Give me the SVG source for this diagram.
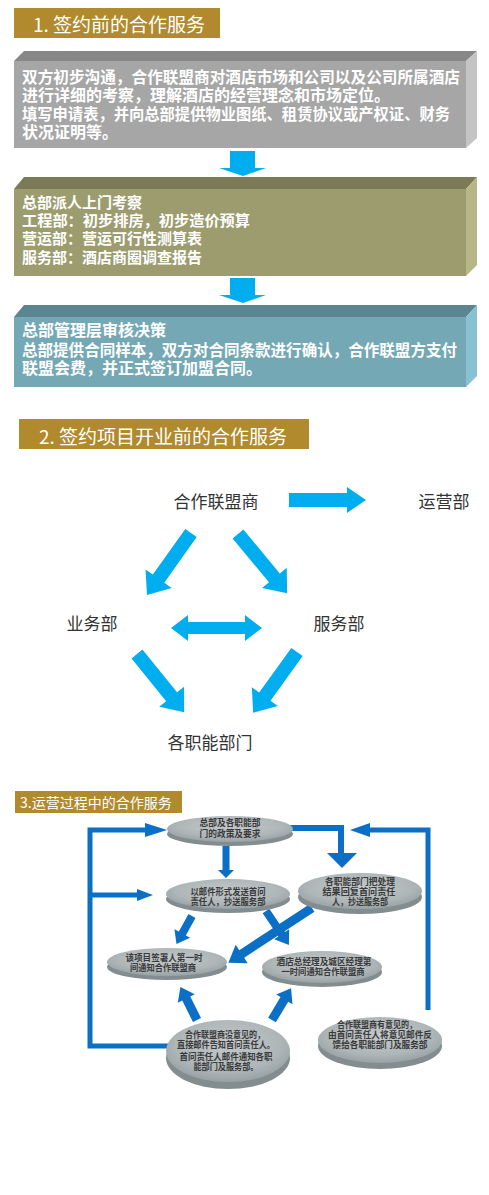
<svg xmlns="http://www.w3.org/2000/svg" width="489" height="1195" viewBox="0 0 489 1195" lang="zh-CN">
<style>
.hdr{fill:#B08A2D}
.hdrt{fill:#fff;font-family:"Noto Sans CJK SC","Liberation Sans",sans-serif}
.bt{fill:#fff;font-family:"Liberation Sans","Noto Sans CJK SC",sans-serif;font-weight:bold}
.lbl{fill:#333;font-family:"Noto Sans CJK SC",sans-serif;font-size:17px;text-anchor:middle}
.et{fill:#3a3a3a;font-family:"Liberation Sans","Noto Sans CJK SC",sans-serif;font-size:9px;text-anchor:middle;font-weight:bold}
.ba{fill:#00AEEF}
.cn{fill:none;stroke:#0B6FC6}
.ch{fill:#0B6FC6}
.rim{fill:#838D90}
.top{fill:url(#eg)}
</style>
<defs>
<radialGradient id="eg" cx="50%" cy="40%" r="60%">
<stop offset="0" stop-color="#C2C9CB"/>
<stop offset="0.7" stop-color="#AEB6B8"/>
<stop offset="1" stop-color="#98A1A4"/>
</radialGradient>
</defs>
<rect width="489" height="1195" fill="#fff"/>

<!-- Section 1 -->
<g id="header1">
<rect class="hdr" x="14" y="8" width="206" height="30"/>
<text class="hdrt" x="33" y="32" font-size="19">1. 签约前的合作服务</text>
</g>
<g id="box1">
<polygon points="14,61 24,51 477,51 466,61" fill="#878787"/>
<rect x="14" y="61" width="452" height="87" fill="#A6A6A6"/>
<polygon points="466,61 477,51 477,138 466,148" fill="#C4C4C4"/>
<text class="bt" font-size="16"><tspan x="22" y="83" textLength="438" lengthAdjust="spacingAndGlyphs">双方初步沟通，合作联盟商对酒店市场和公司以及公司所属酒店</tspan><tspan x="22" y="101">进行详细的考察，理解酒店的经营理念和市场定位。</tspan><tspan x="22" y="120" textLength="428" lengthAdjust="spacingAndGlyphs">填写申请表，并向总部提供物业图纸、租赁协议或产权证、财务</tspan><tspan x="22" y="138">状况证明等。</tspan></text>
</g>
<g id="box2">
<polygon points="14,189 24,177 477,177 466,189" fill="#7A7A55"/>
<rect x="14" y="189" width="452" height="87" fill="#9C9C6E"/>
<polygon points="466,189 477,177 477,265 466,276" fill="#B6B687"/>
<text class="bt" font-size="15"><tspan x="22" y="208">总部派人上门考察</tspan><tspan x="22" y="226" textLength="228" lengthAdjust="spacingAndGlyphs">工程部：初步排房，初步造价预算</tspan><tspan x="22" y="244">营运部：营运可行性测算表</tspan><tspan x="22" y="263">服务部：酒店商圈调查报告</tspan></text>
</g>
<g id="box3">
<polygon points="14,317 24,305 477,305 466,317" fill="#5B8591"/>
<rect x="14" y="317" width="452" height="70" fill="#74A8B5"/>
<polygon points="466,317 477,305 477,376 466,387" fill="#88C1D1"/>
<text class="bt" font-size="16"><tspan x="22" y="336">总部管理层审核决策</tspan><tspan x="22" y="356" textLength="435" lengthAdjust="spacingAndGlyphs">总部提供合同样本，双方对合同条款进行确认，合作联盟方支付</tspan><tspan x="22" y="374">联盟会费，并正式签订加盟合同。</tspan></text>
</g>

<!-- Section 2 -->
<g id="header2">
<rect class="hdr" x="19" y="419" width="290" height="30"/>
<text class="hdrt" x="39" y="444" font-size="19">2. 签约项目开业前的合作服务</text>
</g>
<g id="n-merchant"><text class="lbl" x="216" y="508">合作联盟商</text></g>
<g id="n-ops"><text class="lbl" x="444" y="508">运营部</text></g>
<g id="n-biz"><text class="lbl" x="92" y="630">业务部</text></g>
<g id="n-svc"><text class="lbl" x="339" y="630">服务部</text></g>
<g id="n-depts"><text class="lbl" x="210" y="749">各职能部门</text></g>

<!-- Section 3 -->
<g id="header3">
<rect class="hdr" x="15" y="791" width="167" height="22"/>
<text class="hdrt" x="20" y="808" font-size="14">3.运营过程中的合作服务</text>
</g>

<g id="connectors">
<!-- section 1 -->
<polygon class="ba" points="230,151 255,151 255,168 266,168 243,176 219,168 230,168"/>
<polygon class="ba" points="230,278 255,278 255,295 266,295 243,303 219,295 230,295"/>
<!-- section 2 -->
<polygon class="ba" points="289,493 347,493 347,487 366,500 347,513 347,507 289,507"/>
<polygon class="ba" transform="translate(191,533) rotate(125.4)" points="0,-7 56,-7 56,-16 76,0 56,16 56,7 0,7"/>
<polygon class="ba" transform="translate(238,534) rotate(50.3)" points="0,-7 57,-7 57,-16 77,0 57,16 57,7 0,7"/>
<polygon class="ba" points="171,628 188,615 188,622 245,622 245,615 262,628 245,641 245,634 188,634 188,641"/>
<polygon class="ba" transform="translate(137,654) rotate(51)" points="0,-7 55,-7 55,-16 75,0 55,16 55,7 0,7"/>
<polygon class="ba" transform="translate(297,652) rotate(125.8)" points="0,-7 55,-7 55,-16 75,0 55,16 55,7 0,7"/>
<!-- section 3 -->
<path class="cn" stroke-width="5" d="M170,1046 H90 V830 H147"/>
<polygon class="ch" points="145,823 167,830 145,837"/>
<path class="cn" stroke-width="5" d="M90,895 H139"/>
<polygon class="ch" points="137,889 153,895 137,901"/>
<path class="cn" stroke-width="5" d="M428,1010 V830 H368"/>
<polygon class="ch" points="370,823 350,830 370,837"/>
<path class="cn" stroke-width="6" d="M288,828 H341 V855"/>
<polygon class="ch" points="327,853 357,853 342,868"/>
<path class="cn" stroke-width="7" d="M226,846 V871"/>
<polygon class="ch" points="218,870 234,870 226,878"/>
<polygon class="ch" transform="translate(192,916) rotate(119)" points="0,-4 20,-4 20,-9 32,0 20,9 20,4 0,4"/>
<polygon class="ch" transform="translate(266,911) rotate(56)" points="0,-4 28,-4 28,-9 41,0 28,9 28,4 0,4"/>
<polygon class="ch" transform="translate(312,908) rotate(146.8)" points="0,-4.5 84,-4.5 84,-11 100,0 84,11 84,4.5 0,4.5"/>
<polygon class="ch" transform="translate(197,1020) rotate(-116.6)" points="0,-4.5 24,-4.5 24,-9.5 37,0 24,9.5 24,4.5 0,4.5"/>
<polygon class="ch" transform="translate(272,1020) rotate(-59)" points="0,-4.5 24,-4.5 24,-9.5 37,0 24,9.5 24,4.5 0,4.5"/>
</g>

<g id="e1">
<ellipse class="rim" cx="230" cy="834" rx="63" ry="12"/>
<ellipse class="top" cx="230" cy="829" rx="63" ry="13"/>
<text class="et"><tspan x="230" y="826" textLength="61" lengthAdjust="spacingAndGlyphs">总部及各职能部</tspan><tspan x="230" y="837" textLength="61" lengthAdjust="spacingAndGlyphs">门的政策及要求</tspan></text>
</g>
<g id="e2">
<ellipse class="rim" cx="228" cy="899" rx="62" ry="14"/>
<ellipse class="top" cx="228" cy="894" rx="62" ry="15"/>
<text class="et"><tspan x="228" y="895" textLength="75" lengthAdjust="spacingAndGlyphs">以邮件形式发送首问</tspan><tspan x="228" y="905" textLength="75" lengthAdjust="spacingAndGlyphs">责任人，抄送服务部</tspan></text>
</g>
<g id="e3">
<ellipse class="rim" cx="360" cy="897" rx="62" ry="17"/>
<ellipse class="top" cx="360" cy="891" rx="62" ry="18"/>
<text class="et"><tspan x="360" y="885" textLength="70" lengthAdjust="spacingAndGlyphs">各职能部门把处理</tspan><tspan x="359" y="895" textLength="73" lengthAdjust="spacingAndGlyphs">结果回复首问责任</tspan><tspan x="360" y="905" textLength="56" lengthAdjust="spacingAndGlyphs">人，抄送服务部</tspan></text>
</g>
<g id="e4">
<ellipse class="rim" cx="167" cy="967" rx="60" ry="13"/>
<ellipse class="top" cx="167" cy="962" rx="60" ry="14"/>
<text class="et"><tspan x="164" y="961" textLength="77" lengthAdjust="spacingAndGlyphs">该项目签署人第一时</tspan><tspan x="163" y="971" textLength="66" lengthAdjust="spacingAndGlyphs">间通知合作联盟商</tspan></text>
</g>
<g id="e5">
<ellipse class="rim" cx="322" cy="972" rx="60" ry="15"/>
<ellipse class="top" cx="322" cy="967" rx="60" ry="16"/>
<text class="et"><tspan x="324" y="965" textLength="95" lengthAdjust="spacingAndGlyphs">酒店总经理及城区经理第</tspan><tspan x="323" y="975" textLength="83" lengthAdjust="spacingAndGlyphs">一时间通知合作联盟商</tspan></text>
</g>
<g id="e6">
<ellipse class="rim" cx="228" cy="1058" rx="62" ry="31"/>
<ellipse class="top" cx="228" cy="1051" rx="62" ry="31"/>
<text class="et"><tspan x="225" y="1038" textLength="80" lengthAdjust="spacingAndGlyphs">合作联盟商没意见的，</tspan><tspan x="226" y="1048" textLength="98" lengthAdjust="spacingAndGlyphs">直接邮件告知首问责任人。</tspan><tspan x="226" y="1060" textLength="93" lengthAdjust="spacingAndGlyphs">首问责任人邮件通知各职</tspan><tspan x="226" y="1070" textLength="65" lengthAdjust="spacingAndGlyphs">能部门及服务部。</tspan></text>
</g>
<g id="e7">
<ellipse class="rim" cx="380" cy="1046" rx="62" ry="23"/>
<ellipse class="top" cx="380" cy="1040" rx="62" ry="23"/>
<text class="et"><tspan x="377" y="1028" textLength="80" lengthAdjust="spacingAndGlyphs">合作联盟商有意见的，</tspan><tspan x="380" y="1038" textLength="104" lengthAdjust="spacingAndGlyphs">由首问责任人将意见邮件反</tspan><tspan x="380" y="1048" textLength="95" lengthAdjust="spacingAndGlyphs">馈给各职能部门及服务部</tspan></text>
</g>
</svg>
